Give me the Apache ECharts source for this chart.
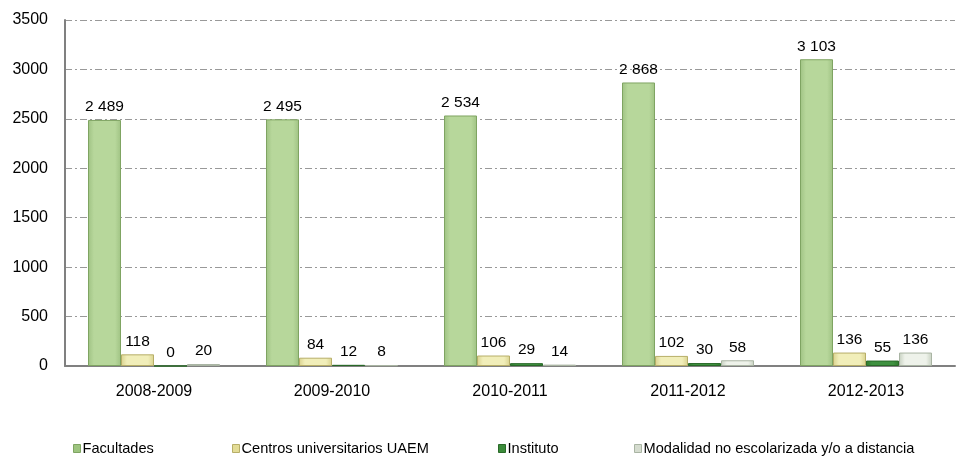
<!DOCTYPE html>
<html>
<head>
<meta charset="utf-8">
<script src="https://cdn.jsdelivr.net/npm/echarts@6/dist/echarts.min.js"></script>
<style>
html, body { margin: 0; padding: 0; background: #fff; }
#chart { width: 956px; height: 462px; }
</style>
</head>
<body>
<div id="chart"></div>
<script>
var periodos = ['2008-2009', '2009-2010', '2010-2011', '2011-2012', '2012-2013'];
var facultades = [2489, 2495, 2534, 2868, 3103];
var centros = [118, 84, 106, 102, 136];
var instituto = [0, 12, 29, 30, 55];
var modalidad = [20, 8, 14, 58, 136];
var yTicks = [0, 500, 1000, 1500, 2000, 2500, 3000, 3500];

var nombres = ['Facultades', 'Centros universitarios UAEM', 'Instituto', 'Modalidad no escolarizada y/o a distancia'];

var myChart = echarts.init(document.getElementById('chart'));

function miles(v) {
  return String(v).replace(/\B(?=(\d{3})+(?!\d))/g, ' ');
}

function grad(edge, mid) {
  return new echarts.graphic.LinearGradient(0, 0, 1, 0, [
    {offset: 0, color: edge},
    {offset: 0.18, color: mid},
    {offset: 0.82, color: mid},
    {offset: 1, color: edge}
  ]);
}

var estilos = [
  {fill: grad('#9fc283', '#b7d79b'), border: '#7fa462', icon: '#9dc47f'},
  {fill: grad('#d9d28e', '#f1eeb9'), border: '#b7ae68', icon: '#e3dc96'},
  {fill: grad('#2f7a2e', '#3f9140'), border: '#2a6a29', icon: '#3c8c3b'},
  {fill: grad('#c6d0c0', '#eef2ea'), border: '#a9b4a3', icon: '#d5dccf'}
];
var datos = [facultades, centros, instituto, modalidad];

var fuente = '"Liberation Sans", Arial, sans-serif';

var series = [];
for (var j = 0; j < 4; j++) {
  series.push({
    name: nombres[j],
    type: 'bar',
    data: datos[j],
    barWidth: 33,
    barGap: '0%',
    itemStyle: {color: estilos[j].fill, borderColor: estilos[j].border, borderWidth: 1},
    label: {
      show: true,
      position: 'top',
      distance: 5,
      color: '#000',
      fontSize: 15.5,
      fontFamily: fuente,
      formatter: function (p) { return miles(p.value); }
    },
    emphasis: {disabled: true}
  });
}

// each legend item placed separately, like the original
var legendLeft = [73, 232, 498, 634];
var legends = [];
for (var k = 0; k < 4; k++) {
  legends.push({
    data: [{name: nombres[k], itemStyle: {color: estilos[k].icon, borderColor: estilos[k].border, borderWidth: 1}}],
    left: legendLeft[k],
    top: 441,
    itemWidth: 7,
    itemHeight: 8,
    itemGap: 0,
    padding: 0,
    icon: 'rect',
    selectedMode: false,
    textStyle: {fontSize: 14.6, fontFamily: fuente, color: '#000', padding: [0, 0, 0, -3]}
  });
}

var option = {
  backgroundColor: '#fff',
  animation: false,
  grid: {left: 65, right: 1, top: 20, bottom: 96},
  legend: legends,
  xAxis: {
    type: 'category',
    data: periodos,
    axisLine: {lineStyle: {color: '#808080', width: 2}},
    axisTick: {show: false},
    axisLabel: {color: '#000', fontSize: 16, fontFamily: fuente, margin: 18}
  },
  yAxis: {
    type: 'value',
    min: yTicks[0],
    max: yTicks[yTicks.length - 1],
    interval: 500,
    axisLine: {show: true, lineStyle: {color: '#808080', width: 2}},
    axisTick: {show: false},
    axisLabel: {color: '#000', fontSize: 16, fontFamily: fuente, margin: 17, formatter: function (v) { return String(v); }},
    splitLine: {lineStyle: {color: '#999', width: 1, type: [7, 3, 2, 3]}}
  },
  series: series
};

myChart.setOption(option);
</script>
</body>
</html>
